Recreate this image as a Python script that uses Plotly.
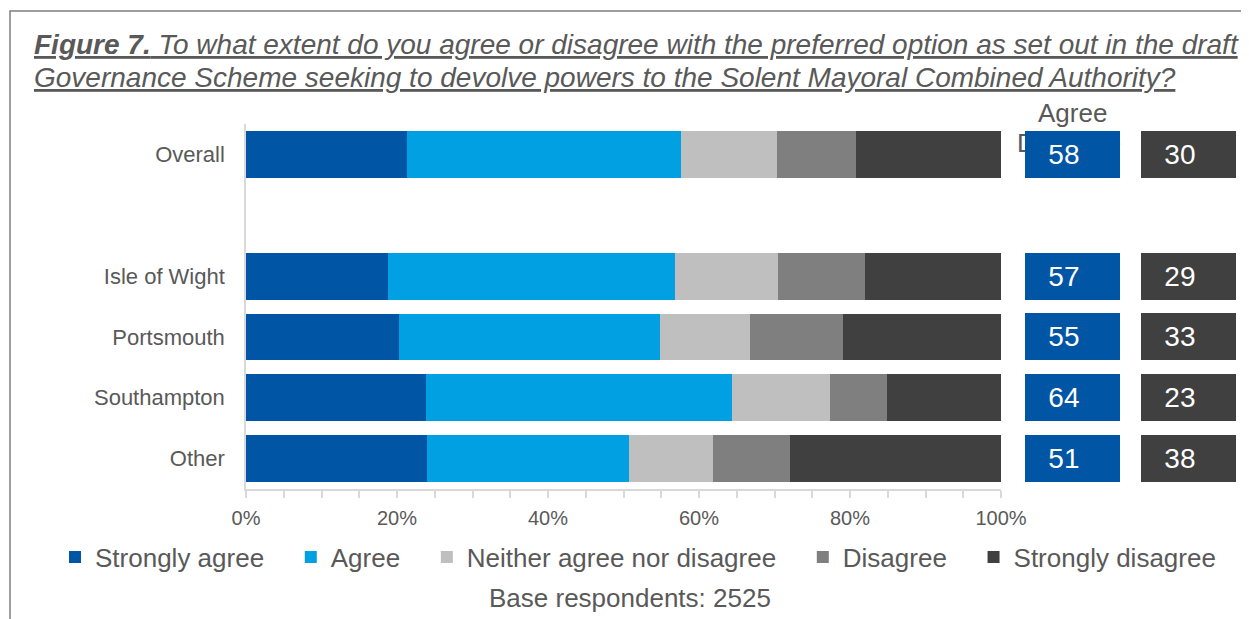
import plotly.graph_objects as go

row_pos = [0, 2, 3, 4, 5]
row_labels = ["Overall", "Isle of Wight", "Portsmouth", "Southampton", "Other"]

strongly_agree = [21.3, 18.8, 20.3, 23.8, 24.0]
agree = [36.3, 38.0, 34.5, 40.6, 26.7]
neither = [12.7, 13.7, 12.0, 13.0, 11.2]
disagree = [10.5, 11.5, 12.3, 7.5, 10.2]
strongly_disagree = [19.2, 18.0, 20.9, 15.1, 27.9]

agree_total = [58, 57, 55, 64, 51]
disagree_total = [30, 29, 33, 23, 38]

tick_vals = [0, 20, 40, 60, 80, 100]
tick_text = ["0%", "20%", "40%", "60%", "80%", "100%"]

series_names = ["Strongly agree", "Agree", "Neither agree nor disagree", "Disagree", "Strongly disagree"]
series_values = [strongly_agree, agree, neither, disagree, strongly_disagree]
series_colors = ["#0055A4", "#00A0E2", "#BFBFBF", "#7F7F7F", "#404040"]

FONT = "Liberation Sans, Arial, sans-serif"
OFF = 8  # page body margin of the browser
W, H = 1249 - OFF, 619 - OFF
PT, PB = 124 - OFF, 489 - OFF  # plot area top/bottom in figure pixels


def px_x(p):
    return (p - OFF) / W


def px_y(p):
    return (PB - (p - OFF)) / (PB - PT)


fig = go.Figure()
for i, (name, vals, col) in enumerate(zip(series_names, series_values, series_colors)):
    pad = "&nbsp;&nbsp;&nbsp;" if i < len(series_names) - 1 else ""
    fig.add_trace(go.Bar(
        y=row_pos, x=vals, name=name + pad, orientation="h",
        marker=dict(color=col, line=dict(width=0)),
        hovertemplate=name + ": %{x:.1f}%<extra></extra>",
    ))

annotations = []
title_font = dict(family=FONT, size=28, color="#595959")
annotations.append(dict(
    text="<u><b><i>Figure 7.</i></b><i> To what extent do you agree or disagree with the preferred option as set out in the draft</i></u>",
    xref="paper", yref="paper", x=px_x(32), y=px_y(45), xanchor="left", yanchor="middle",
    showarrow=False, font=title_font))
annotations.append(dict(
    text="<u><i>Governance Scheme seeking to devolve powers to the Solent Mayoral Combined Authority?</i></u>",
    xref="paper", yref="paper", x=px_x(32), y=px_y(77), xanchor="left", yanchor="middle",
    showarrow=False, font=title_font))
# partially hidden "Disagree" header (drawn first so the box covers it)
annotations.append(dict(text="Disagree", xref="paper", yref="paper", x=px_x(1015), y=px_y(143),
                        xanchor="left", yanchor="middle", showarrow=False,
                        font=dict(family=FONT, size=26, color="#595959")))
annotations.append(dict(text="Agree", xref="paper", yref="paper", x=px_x(1072), y=px_y(113),
                        xanchor="center", yanchor="middle", showarrow=False,
                        font=dict(family=FONT, size=26, color="#595959")))
for p, a, d in zip(row_pos, agree_total, disagree_total):
    annotations.append(dict(text="&nbsp;&nbsp;&nbsp;" + str(a), xref="paper", yref="y",
                            x=px_x(1072.5), y=p, xanchor="center", yanchor="middle",
                            showarrow=False, width=95, height=47, align="left",
                            bgcolor="#0055A4", borderpad=0, borderwidth=0,
                            font=dict(family=FONT, size=28, color="white")))
    annotations.append(dict(text="&nbsp;&nbsp;&nbsp;" + str(d), xref="paper", yref="y",
                            x=px_x(1188.5), y=p, xanchor="center", yanchor="middle",
                            showarrow=False, width=95, height=47, align="left",
                            bgcolor="#404040", borderpad=0, borderwidth=0,
                            font=dict(family=FONT, size=28, color="white")))
annotations.append(dict(text="Base respondents: 2525", xref="paper", yref="paper",
                        x=px_x(630), y=px_y(598), xanchor="center", yanchor="middle",
                        showarrow=False, font=dict(family=FONT, size=26, color="#595959")))

fig.update_layout(
    width=W, height=H,
    margin=dict(l=0, r=0, t=PT, b=H - PB, autoexpand=False),
    paper_bgcolor="white", plot_bgcolor="white",
    barmode="stack", bargap=0.23,
    font=dict(family=FONT, color="#595959"),
    xaxis=dict(
        domain=[(246 - OFF) / W, (1001 - OFF) / W],
        range=[0, 100], tickvals=tick_vals, ticktext=tick_text,
        showgrid=False, zeroline=False, automargin=False,
        showline=True, linecolor="#D9D9D9", linewidth=1.5,
        ticks="outside", ticklen=7, tickcolor="#D9D9D9", tickwidth=1.5,
        minor=dict(dtick=5, ticks="outside", ticklen=7, tickcolor="#D9D9D9", tickwidth=1.5),
        ticklabelstandoff=3,
        tickfont=dict(family=FONT, size=20, color="#595959"),
        fixedrange=True,
    ),
    yaxis=dict(
        range=[5.5, -0.5], tickvals=row_pos, ticktext=row_labels,
        showgrid=False, zeroline=False, automargin=False,
        showline=True, linecolor="#D9D9D9", linewidth=1.5,
        ticks="", ticklabelstandoff=15,
        tickfont=dict(family=FONT, size=22, color="#595959"),
        fixedrange=True,
    ),
    legend=dict(
        orientation="h", x=px_x(638), xanchor="center",
        y=px_y(557), yanchor="middle",
        font=dict(family=FONT, size=26, color="#595959"),
        traceorder="normal", itemclick=False, itemdoubleclick=False,
    ),
    annotations=annotations,
    shapes=[dict(type="rect", xref="paper", yref="paper",
                 x0=px_x(10), x1=px_x(1300),
                 y0=px_y(700), y1=px_y(11),
                 line=dict(color="#7F7F7F", width=1.5), fillcolor="rgba(0,0,0,0)", layer="below")],
)

fig.write_html("out.html")
